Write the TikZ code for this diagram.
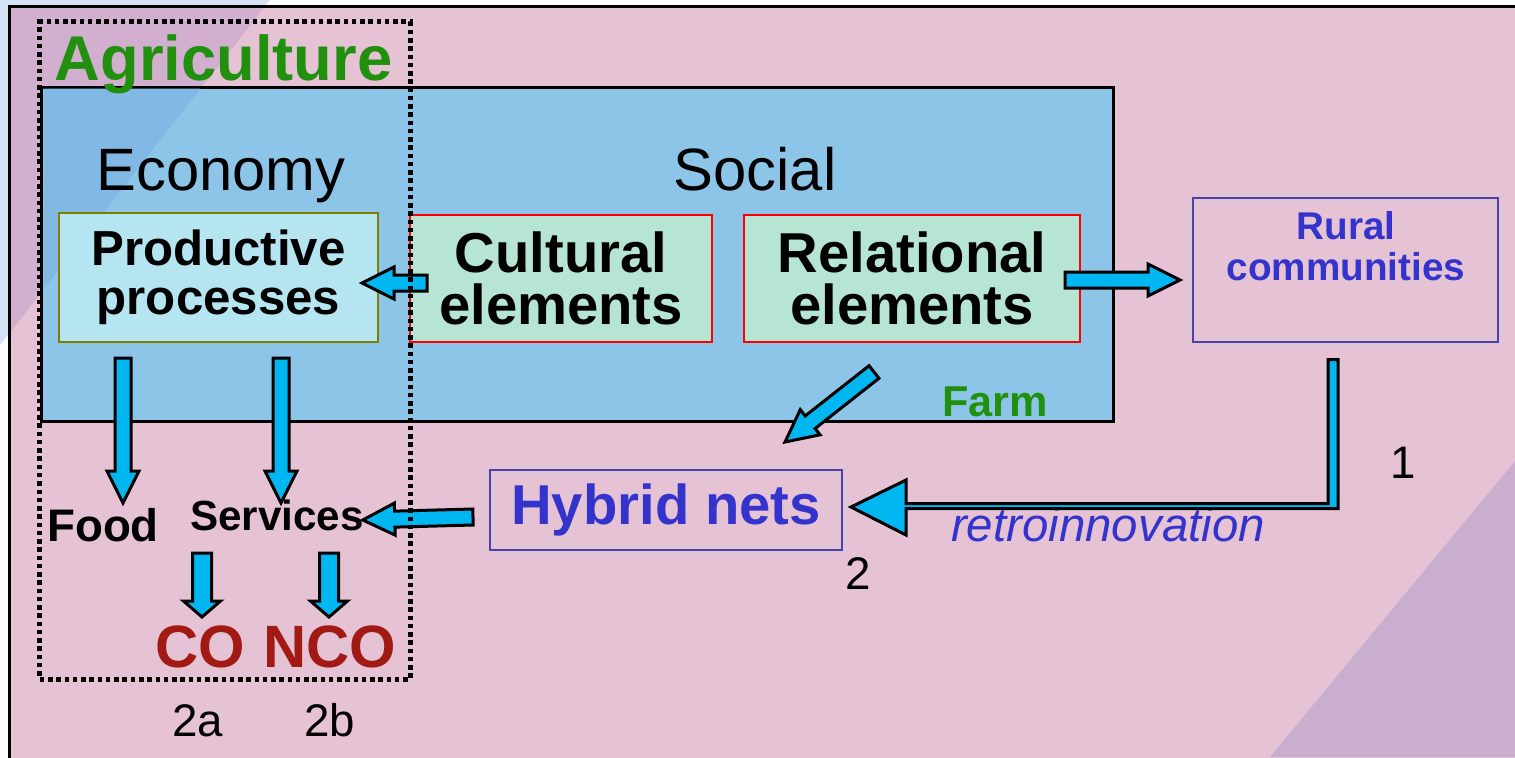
\documentclass[tikz,border=0pt]{standalone}
\usepackage{fontspec}
\setmainfont{Liberation Sans}
\usetikzlibrary{calc}

\definecolor{outerblue}{HTML}{D5E2F4}
\definecolor{slidepink}{HTML}{E5C3D5}
\definecolor{slidemauve}{HTML}{D2AFCE}
\definecolor{slidelilac}{HTML}{CAAED0}
\definecolor{farmblue}{HTML}{8DC5E9}
\definecolor{farmtint}{HTML}{82B8E4}
\definecolor{procfill}{HTML}{B6E5F2}
\definecolor{mintfill}{HTML}{B6E5D3}
\definecolor{procolive}{HTML}{7F7F00}
\definecolor{netblue}{HTML}{4444AA}
\definecolor{textblue}{HTML}{3434CC}
\definecolor{arrowblue}{HTML}{00B7F1}
\definecolor{agrigreen}{HTML}{21900F}
\definecolor{cored}{HTML}{A11A14}

\begin{document}
\begin{tikzpicture}[x=0.2mm, y=-0.2mm]
\tikzset{every node/.style={inner sep=0pt, outer sep=0pt}}
\tikzset{
  shaftw/.store in=\shaftw, headw/.store in=\headw, headl/.store in=\headl,
  shaftw=1.6mm, headw=3.2mm, headl=6.4mm,
  fatarrow/.style={draw=black, fill=arrowblue, line width=0.6mm, line join=miter,
    to path={($(\tikztostart)!\shaftw!-90:(\tikztotarget)$)
      -- ($(\tikztotarget)!\headl!(\tikztostart)!\shaftw!90:(\tikztostart)$)
      -- ($(\tikztotarget)!\headl!(\tikztostart)!\headw!90:(\tikztostart)$)
      -- (\tikztotarget)
      -- ($(\tikztotarget)!\headl!(\tikztostart)!\headw!-90:(\tikztostart)$)
      -- ($(\tikztotarget)!\headl!(\tikztostart)!\shaftw!-90:(\tikztostart)$)
      -- ($(\tikztostart)!\shaftw!90:(\tikztotarget)$) -- cycle}},
  farmbox/.style={draw=black, fill=farmblue, line width=0.6mm, minimum width=214.2mm, minimum height=66.8mm},
  agribox/.style={draw=black, line width=1mm, dash pattern=on 0.9mm off 0.75mm, minimum width=74mm, minimum height=131.4mm},
  procbox/.style={draw=procolive, fill=procfill, line width=0.4mm, minimum width=63.8mm, minimum height=25.8mm,
    align=center, font=\fontsize{28}{28}\selectfont\bfseries},
  culturebox/.style={draw=red, fill=mintfill, line width=0.4mm, minimum width=60.4mm, minimum height=25.4mm,
    align=center, font=\fontsize{32}{30}\selectfont\bfseries},
  ruralbox/.style={draw=netblue, line width=0.4mm, minimum width=61mm, minimum height=28.8mm},
  ruraltext/.style={text=textblue, align=center, font=\fontsize{22}{23}\selectfont\bfseries},
  hybridbox/.style={draw=netblue, text=textblue, line width=0.4mm, minimum width=70.4mm, minimum height=16mm,
    font=\fontsize{32}{32}\selectfont\bfseries},
  agritext/.style={text=agrigreen, font=\fontsize{36}{36}\selectfont\bfseries},
  sectortext/.style={font=\fontsize{34}{34}\selectfont},
  farmtext/.style={text=agrigreen, font=\fontsize{24.6}{25}\selectfont\bfseries},
  outtext/.style={font=\fontsize{24}{24}\selectfont\bfseries},
  cotext/.style={text=cored, font=\fontsize{34}{34}\selectfont\bfseries},
  numtext/.style={font=\fontsize{26}{26}\selectfont},
  retrotext/.style={text=textblue, font=\fontsize{27}{27}\selectfont\itshape}
}
\useasboundingbox (0,0) rectangle (1515,757);

% slide background
\fill[white] (0,0) rectangle (1515,757);
\fill[outerblue] (0,0) -- (270,0) -- (0,345) -- cycle;
\fill[slidepink] (9,6) rectangle (1540,780);
\fill[slidemauve] (10.5,7.5) -- (264,7.5) -- (10.5,332) -- cycle;
\fill[slidelilac] (1515,461) -- (1515,757) -- (1270,757) -- cycle;
\draw[line width=0.6mm] (9,780) -- (9,6) -- (1540,6);

% farm
\node[farmbox] (farm) at (577.5,254) {};
\fill[farmtint] (43.5,88.5) -- (200.5,88.5) -- (43.5,289) -- cycle;
\node[farmtext, anchor=base] (farmlbl) at (995,416) {Farm};

\node[agritext, anchor=base] (agri) at (223.5,80) {Agriculture};
\node[sectortext, anchor=base] (econ) at (221,190) {Economy};
\node[sectortext, anchor=base] (social) at (755,190) {Social};

% boxes
\node[procbox] (prod) at (218.5,277.5) {Productive\\processes};
\node[culturebox] (cult) at (561,278.5) {Cultural\\elements};
\node[culturebox, minimum width=67.2mm] (rel) at (912,278.5) {Relational\\elements};
\node[ruralbox] (rural) at (1345.5,270) {};
\node[ruraltext] (ruraltxt) at (1346,246) {Rural\\communities};
\node[hybridbox] (hybrid) at (666,510) {Hybrid nets};

% outputs
\node[outtext, font=\fontsize{26}{26}\selectfont\bfseries, anchor=base] (food) at (103,541) {Food};
\node[outtext, anchor=base] (serv) at (277,530) {Services};
\node[cotext, anchor=base] (co) at (200,667) {CO};
\node[cotext, anchor=base] (nco) at (330,667) {NCO};

\node[numtext, anchor=base] (n2a) at (198,736) {2a};
\node[numtext, anchor=base] (n2b) at (330,736) {2b};
\node[numtext, anchor=base] (n1) at (1403,478) {1};
\node[numtext, anchor=base] (n2) at (858,589) {2};
\node[retrotext, anchor=base] (retro) at (1108,541) {retroinnovation};

% arrows
\draw[fatarrow] ($(prod.south)+(-95.5,16)$) to ($(food.base)+(20,-38)$);
\draw[fatarrow] ($(prod.south)+(62.5,16)$) to ($(serv.base)+(4,-27)$);
\draw[fatarrow] ($(cult.west)+(17,4.5)$) to ($(prod.east)+(-16,5.5)$);
\draw[fatarrow] ($(rel.east)+(-15,1.5)$) to ($(rural.west)+(-13,10)$);
\draw[fatarrow] ($(rel.south)+(-38,30)$) to ($(hybrid.north)+(119,-28)$);
\draw[fatarrow] ($(hybrid.west)+(-17,7)$) to ($(serv.base east)+(-1,-10)$);
\draw[fatarrow, shaftw=1.9mm, headw=3.7mm, headl=3.2mm] ($(serv.base)+(-75,23)$) to ($(co.base)+(2,-50)$);
\draw[fatarrow, shaftw=1.9mm, headw=3.7mm, headl=3.2mm] ($(serv.base)+(52,23)$) to ($(nco.base)+(-1,-50)$);

% retroinnovation
\coordinate (rtop) at ($(rural.south)+(-17.5,17.5)$);
\coordinate (rtip) at ($(hybrid.east)+(9,-3)$);
\draw[draw=black, fill=arrowblue, line width=0.6mm, line join=miter]
  (rtop) -- ++(10,0) |- ($(rtip)+(55,1.5)$) -- ++(0,26.5) -- (rtip) -- ++(55,-27) -- ++(0,23.5) -| (rtop) -- cycle;

\node[agribox] (agribox) at (225,350.5) {};
\end{tikzpicture}
\end{document}
